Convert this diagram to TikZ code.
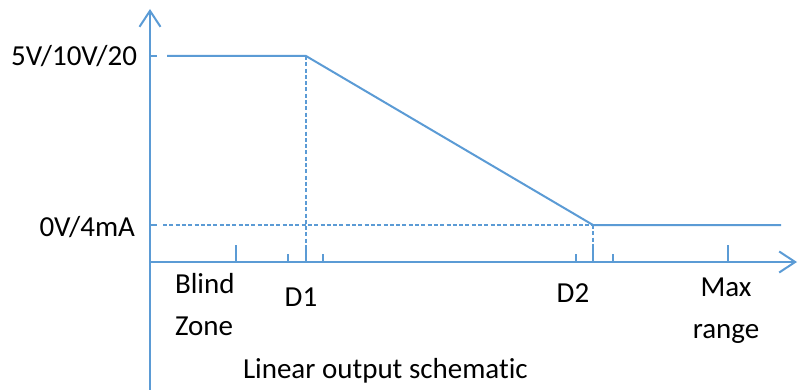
\documentclass[tikz,border=0pt]{standalone}
\usepackage{fontspec}
\setmainfont{Carlito}[Ligatures=NoCommon]
\usetikzlibrary{arrows.meta, positioning}
\definecolor{cblue}{RGB}{91,155,213}
\tikzset{
  every picture/.style={line width=2pt},
  axis/.style={draw=cblue, line width=2pt, -{Straight Barb[length=16pt, width=21pt, line width=2pt]}},
  curve/.style={draw=cblue, line width=2pt},
  guide/.style={draw=cblue, line width=1.4pt, dash pattern=on 4pt off 2.3pt},
  tick/.style={draw=cblue, line width=2pt},
  lbl/.style={font=\fontsize{29}{42}\selectfont, inner sep=0pt, text=black},
}

\begin{document}
\begin{tikzpicture}[x=1pt, y=-1pt]
  \useasboundingbox (0,0) rectangle (802,390);
  % axes
  \coordinate (o) at (150,262);
  \coordinate (ytop) at (150,9);
  \coordinate (ybot) at (150,390);
  \coordinate (xend) at (797,262);
  \draw[axis] (ybot) -- (ytop);
  \draw[axis] (o) -- (xend);
  % output curve
  \coordinate (hi) at (167,56);
  \coordinate (d1top) at (306,56);
  \coordinate (d2low) at (593,225);
  \coordinate (loend) at (781,225);
  \draw[curve] (hi) -- (d1top) -- (d2low) -- (loend);
  \draw[guide] (d1top) -- (306,245);
  \draw[guide] (d2low) -- (593,245);
  \draw[guide] (163,225) -- (d2low);
  % ticks
  \draw[tick] (150,56) -- (157,56);
  \draw[tick] (150,225) -- (157,225);
  \foreach \x in {236,306,593,728}
    \draw[tick] (\x,262) -- (\x,245);
  \foreach \x in {288,323,576,613}
    \draw[tick] (\x,262) -- (\x,254);
  % labels
  \node[lbl, anchor=base east] (vhi) at (138,66) {5V/10V/20};
  \node[lbl, anchor=base east] (vlo) at (136,236) {0V/4mA};
  \node[lbl, anchor=base west, align=left] (blind) at (174,335) {Blind\\Zone};
  \node[lbl, anchor=base] (d1) at (301,306) {D1};
  \node[lbl, anchor=base] (d2) at (573,302) {D2};
  \node[lbl, anchor=base, align=center] (maxr) at (726,338) {Max\\range};
  \node[lbl, anchor=base west] (title) at (242,378) {Linear output schematic};
\end{tikzpicture}
\end{document}
